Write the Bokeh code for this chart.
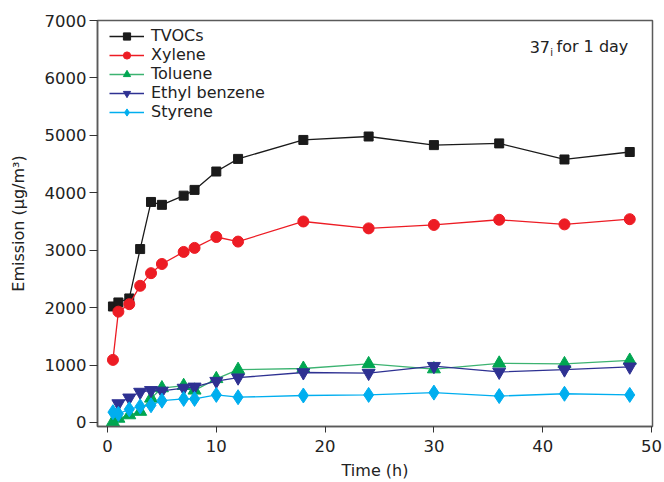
from bokeh.plotting import figure
from bokeh.models import Range1d, Label, Legend, LegendItem
from bokeh.embed import file_html
from bokeh.resources import INLINE

# ---- data ----
time_h = [0.5, 1, 2, 3, 4, 5, 7, 8, 10, 12, 18, 24, 30, 36, 42, 48]
time_eb = [1, 2, 3, 4, 5, 7, 8, 10, 12, 18, 24, 30, 36, 42, 48]
tvocs = [2020, 2090, 2160, 3020, 3840, 3790, 3950, 4050, 4370, 4590, 4920, 4980, 4830, 4860, 4580, 4710]
xylene = [1090, 1930, 2060, 2380, 2600, 2760, 2970, 3040, 3230, 3150, 3500, 3380, 3440, 3530, 3450, 3540]
toluene = [10, 70, 130, 190, 420, 600, 640, 560, 760, 920, 940, 1020, 930, 1030, 1020, 1080]
ethyl = [330, 430, 530, 560, 550, 600, 620, 720, 780, 870, 860, 980, 880, 920, 970]
styrene = [180, 150, 230, 280, 300, 380, 410, 410, 480, 440, 470, 480, 520, 460, 500, 480]
x_ticks = [0, 10, 20, 30, 40, 50]
y_ticks = [0, 1000, 2000, 3000, 4000, 5000, 6000, 7000]

FONT = "DejaVu Sans"
TXT = "#222222"

p = figure(width=664, height=482, output_backend="svg", toolbar_location=None,
           x_range=Range1d(-0.92, 50.09), y_range=Range1d(-70, 7000),
           min_border_left=97, min_border_right=12, min_border_top=20, min_border_bottom=54)
p.grid.visible = False
p.outline_line_color = "#5a5a5a"
p.outline_line_width = 1.5

for ax in (p.xaxis[0], p.yaxis[0]):
    ax.axis_line_color = "#5a5a5a"
    ax.axis_line_width = 1.5
    ax.major_tick_line_color = "#333333"
    ax.minor_tick_line_color = "#333333"
    ax.major_tick_in = 0
    ax.minor_tick_in = 0
    ax.major_label_text_font = FONT
    ax.major_label_text_font_size = "16.5px"
    ax.major_label_text_color = TXT
    ax.axis_label_text_font = FONT
    ax.axis_label_text_font_size = "16px"
    ax.axis_label_text_font_style = "normal"
    ax.axis_label_text_color = TXT

p.xaxis.ticker = x_ticks
p.xaxis[0].ticker.num_minor_ticks = 2
p.yaxis.ticker = y_ticks
p.yaxis[0].ticker.num_minor_ticks = 2
p.xaxis.major_tick_out = 6
p.xaxis.minor_tick_out = 4
p.yaxis.major_tick_out = 8
p.yaxis.minor_tick_out = 5
p.xaxis.axis_label = "Time (h)"
p.yaxis.axis_label = "Emission (\u03bcg/m\u00b3)"
p.xaxis.major_label_standoff = 7
p.yaxis.major_label_standoff = 3
p.xaxis.axis_label_standoff = 6
p.yaxis.axis_label_standoff = 14

series = [
    ("TVOCs", time_h, tvocs, "#1a1a1a", "#1a1a1a", "square", 9),
    ("Xylene", time_h, xylene, "#ed1c24", "#ed1c24", "circle", 11),
    ("Toluene", time_h, toluene, "#00a651", "#3cb371", "triangle", 13),
    ("Ethyl benzene", time_eb, ethyl, "#2e3192", "#2e3192", "inverted_triangle", 13),
    ("Styrene", time_h, styrene, "#00aeef", "#00aeef", "diamond", 15),
]

items = []
for name, xs, ys, color, lcolor, marker, size in series:
    l = p.line(xs, ys, line_color=lcolor, line_width=1.3)
    s = p.scatter(xs, ys, marker=marker, size=size, fill_color=color, line_color=color)
    items.append(LegendItem(label=name, renderers=[l, s]))

legend = Legend(items=items, location=(12, 305))
legend.border_line_color = None
legend.background_fill_alpha = 0
legend.label_text_font = FONT
legend.label_text_font_size = "16px"
legend.label_text_color = TXT
legend.label_height = 18
legend.glyph_height = 18
legend.glyph_width = 35
legend.label_standoff = 7
legend.spacing = 0
legend.margin = 0
legend.padding = 4
p.add_layout(legend)

p.add_layout(Label(x=38.8, y=6540, text="37", text_font=FONT, text_font_size="16px",
                   text_color=TXT, text_baseline="alphabetic"))
p.add_layout(Label(x=40.7, y=6450, text="i", text_font=FONT, text_font_size="10px",
                   text_color=TXT, text_baseline="alphabetic"))
p.add_layout(Label(x=41.27, y=6540, text="for 1 day", text_font=FONT, text_font_size="16px",
                   text_color=TXT, text_baseline="alphabetic"))

open("out.html", "w").write(file_html(p, INLINE))
